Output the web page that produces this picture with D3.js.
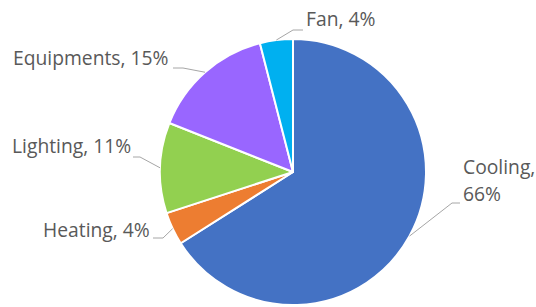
<!DOCTYPE html>
<html><head><meta charset="utf-8">
<script src="https://cdn.jsdelivr.net/npm/d3@7"></script>
<style>body{margin:0;background:#fff}svg{display:block}</style>
</head><body>
<script>
const categories = ["Cooling", "Heating", "Lighting", "Equipments", "Fan"];
const values = [66, 4, 11, 15, 4];
const colors = ["#4472C4", "#ED7D31", "#92D050", "#9966FF", "#00B0F0"];

const W = 536, H = 307, cx = 293, cy = 172, R = 133;
// label layout: text anchor point, elbow and end of leader
const layout = {
  Cooling:    {x: 463, y: 174, lines: 2, elbow: [452, 203], end: [460, 203]},
  Heating:    {x: 43,  y: 237, elbow: [163, 238], end: [153, 238]},
  Lighting:   {x: 12,  y: 153, elbow: [140, 157], end: [133, 157]},
  Equipments: {x: 13,  y: 65,  elbow: [183, 68], end: [173, 68]},
  Fan:        {x: 306, y: 26,  elbow: [293, 30], end: [303, 30]}
};

const svg = d3.select("body").append("svg").attr("width", W).attr("height", H);
const data = categories.map((c, i) => ({cat: c, value: values[i], color: colors[i]}));
const pie = d3.pie().value(d => d.value).sort(null);
const arcs = pie(data);
const arc = d3.arc().innerRadius(0).outerRadius(R);

const g = svg.append("g").attr("transform", `translate(${cx},${cy})`);
g.selectAll("path").data(arcs).join("path")
  .attr("d", arc).attr("fill", d => d.data.color)
  .attr("stroke", "#fff").attr("stroke-width", 2).attr("stroke-linejoin", "round");

const total = d3.sum(values);
arcs.forEach(a => {
  const L = layout[a.data.cat];
  const mid = (a.startAngle + a.endAngle) / 2;
  const sx = cx + R * Math.sin(mid), sy = cy - R * Math.cos(mid);
  svg.append("polyline")
    .attr("points", [[sx, sy], L.elbow, L.end].map(p => p.join(",")).join(" "))
    .attr("fill", "none").attr("stroke", "#A6A6A6").attr("stroke-width", 1);
  const pct = Math.round(a.data.value / total * 100) + "%";
  const t = svg.append("text").attr("x", L.x).attr("y", L.y)
    .attr("font-family", "'Open Sans', sans-serif").attr("font-size", 19.3)
    .attr("fill", "#595959");
  if (L.lines === 2) {
    t.append("tspan").attr("x", L.x).text(a.data.cat + ",");
    t.append("tspan").attr("x", L.x).attr("dy", 27).text(pct);
  } else {
    t.text(a.data.cat + ", " + pct);
  }
});
</script>
</body></html>
